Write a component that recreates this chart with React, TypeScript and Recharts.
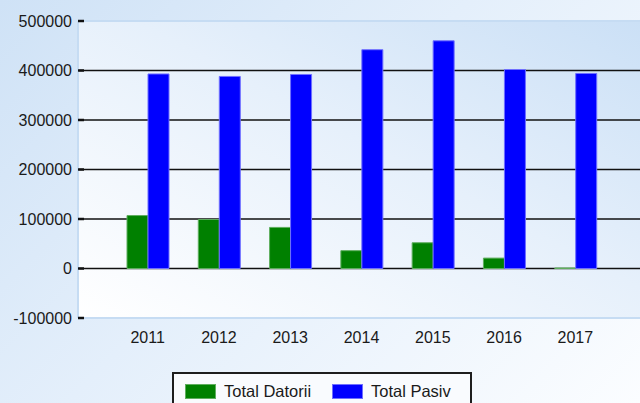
import React from 'react';
import { BarChart, Bar, XAxis, YAxis, CartesianGrid, ReferenceLine } from 'recharts';

const years = ['2011', '2012', '2013', '2014', '2015', '2016', '2017'];
const totalDatorii = [107000, 99000, 83000, 36000, 52000, 21000, 1000];
const totalPasiv = [393000, 388000, 392000, 442000, 460000, 402000, 394000];
const yTicks = [-100000, 0, 100000, 200000, 300000, 400000, 500000];
const gridValues = [0, 100000, 200000, 300000, 400000];

const series = [
  { key: 'datorii', name: 'Total Datorii', color: '#008000', edge: '#5fae5f' },
  { key: 'pasiv', name: 'Total Pasiv', color: '#0000ff', edge: '#6f6fff' },
];

const data = years.map((y, i) => ({ year: y, datorii: totalDatorii[i], pasiv: totalPasiv[i] }));

const FONT = '"Liberation Sans", Arial, sans-serif';

const gridGen = (props: any) => {
  const yAxis = props.yAxis;
  const s = yAxis && yAxis.scale;
  if (!s) return [];
  const f = typeof s === 'function' ? s : s.map ? (v: number) => s.map(v) : null;
  if (!f) return [];
  return gridValues.map((v) => f(v));
};

export default function App() {
  return (
    <div
      style={{
        position: 'absolute',
        left: 0,
        top: 0,
        width: 640,
        height: 403,
        overflow: 'hidden',
        background: 'linear-gradient(135deg, #cfe2f6 0%, #e4effb 45%, #fbfdff 100%)',
        fontFamily: FONT,
      }}
    >
      <BarChart
        width={640}
        height={403}
        data={data}
        margin={{ top: 21, right: 0, bottom: 0, left: 0 }}
        barGap={0}
        barSize={21}
      >
        <defs>
          <linearGradient id="plotBg" x1="0" y1="1" x2="1" y2="0">
            <stop offset="0%" stopColor="#ffffff" />
            <stop offset="55%" stopColor="#e6f0fb" />
            <stop offset="100%" stopColor="#cbe0f6" />
          </linearGradient>
        </defs>
        <CartesianGrid
          fill="url(#plotBg)"
          vertical={false}
          horizontalCoordinatesGenerator={gridGen}
          stroke="#111"
          strokeWidth={1.6}
          strokeOpacity={1}
        />
        <XAxis
          dataKey="year"
          height={85}
          padding={{ left: 34, right: 29 }}
          axisLine={{ stroke: '#c6dcf3', strokeWidth: 2 }}
          tickLine={false}
          tickMargin={8}
          tick={{ fill: '#1a1a1a', fontSize: 16, fontFamily: FONT }}
        />
        <YAxis
          width={78}
          domain={[-100000, 500000]}
          ticks={yTicks}
          interval={0}
          allowDataOverflow
          axisLine={{ stroke: '#c6dcf3', strokeWidth: 2 }}
          tickSize={-6}
          tickMargin={12}
          tickLine={{ stroke: '#111', strokeWidth: 2.5 }}
          tick={{ fill: '#1a1a1a', fontSize: 16, fontFamily: FONT }}
        />
        <ReferenceLine y={500000} stroke="#c6dcf3" strokeWidth={2} />
        {series.map((s) => (
          <Bar
            key={s.key}
            dataKey={s.key}
            name={s.name}
            fill={s.color}
            stroke={s.edge}
            strokeWidth={1}
            isAnimationActive={false}
          />
        ))}
      </BarChart>
      <div
        style={{
          position: 'absolute',
          left: 172,
          top: 372,
          width: 300,
          height: 40,
          border: '2px solid #1e1e1e',
          background: '#f9fbfe',
          boxSizing: 'border-box',
        }}
      >
        {series.map((s, i) => (
          <div
            key={s.key}
            style={{
              position: 'absolute',
              left: i === 0 ? 11 : 158,
              top: 8,
              display: 'flex',
              alignItems: 'center',
              fontSize: 16.5,
              color: '#1a1a1a',
              fontFamily: FONT,
              whiteSpace: 'nowrap',
            }}
          >
            <span
              style={{
                display: 'inline-block',
                width: 31,
                height: 15,
                background: s.color,
                border: `1px solid ${s.edge}`,
                boxSizing: 'border-box',
                marginRight: 8,
              }}
            />
            <span>{s.name}</span>
          </div>
        ))}
      </div>
    </div>
  );
}
